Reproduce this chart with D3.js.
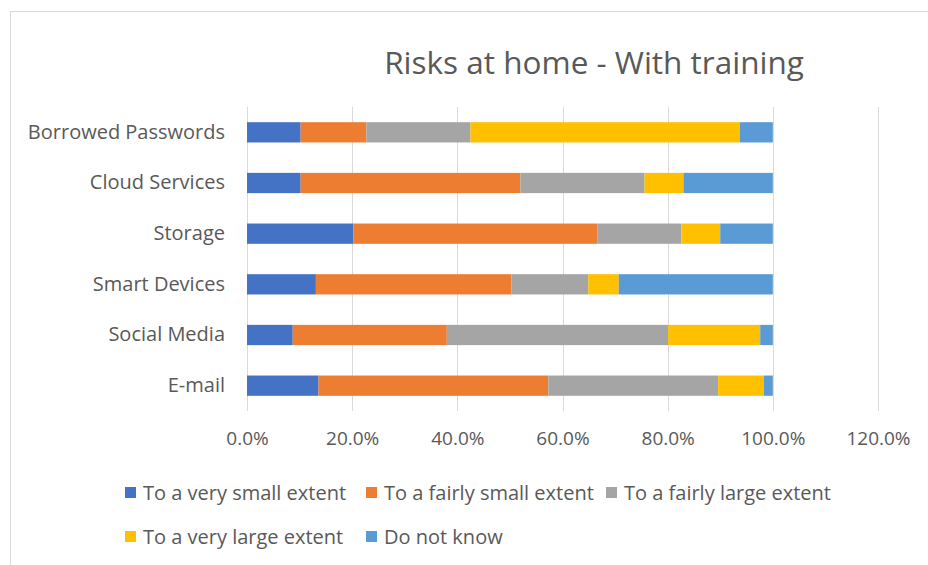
<!DOCTYPE html>
<html>
<head>
<meta charset="utf-8">
<script src="https://cdn.jsdelivr.net/npm/d3@7"></script>
<style>
  html, body { margin: 0; padding: 0; background: #fff; }
  svg { display: block; }
  text { font-family: "Open Sans", "Noto Sans", sans-serif; fill: #595959; }
</style>
</head>
<body>
<svg id="chart" width="928" height="565"></svg>
<script>
// Categories (top to bottom)
const categories = ["Borrowed Passwords", "Cloud Services", "Storage", "Smart Devices", "Social Media", "E-mail"];
// Series (shares, %)
const seriesNames = ["To a very small extent", "To a fairly small extent", "To a fairly large extent", "To a very large extent", "Do not know"];
const verySmall   = [10.2, 10.2, 20.2, 13.1,  8.7, 13.6];
const fairlySmall = [12.5, 41.8, 46.4, 37.2, 29.3, 43.7];
const fairlyLarge = [19.8, 23.6, 16.0, 14.6, 42.1, 32.3];
const veryLarge   = [51.2,  7.4,  7.4,  5.8, 17.5,  8.7];
const doNotKnow   = [ 6.3, 17.0, 10.0, 29.3,  2.4,  1.7];
const tickValues  = [0, 20, 40, 60, 80, 100, 120];
const colors = ["#4472C4", "#ED7D31", "#A5A5A5", "#FFC000", "#5B9BD5"];

const seriesValues = [verySmall, fairlySmall, fairlyLarge, veryLarge, doNotKnow];
const rows = categories.map((c, i) => {
  const r = { category: c };
  seriesNames.forEach((s, j) => r[s] = seriesValues[j][i]);
  return r;
});

const svg = d3.select("#chart");

// Chart border
svg.append("rect")
  .attr("x", 10.5).attr("y", 11.5)
  .attr("width", 940).attr("height", 600)
  .attr("fill", "none").attr("stroke", "#D9D9D9").attr("stroke-width", 1);

const plot = { left: 247, right: 878, top: 107, bottom: 411 };

const x = d3.scaleLinear().domain([0, 120]).range([plot.left, plot.right]);
const y = d3.scaleBand().domain(categories).range([plot.top, plot.bottom]).paddingInner(0.6).paddingOuter(0.3);

// Title
svg.append("text")
  .attr("x", 594).attr("y", 74)
  .attr("text-anchor", "middle")
  .style("font-size", "31.5px")
  .text("Risks at home - With training");

// Gridlines
svg.append("g")
  .selectAll("line")
  .data(tickValues)
  .join("line")
  .attr("x1", d => Math.round(x(d)) + 0.5).attr("x2", d => Math.round(x(d)) + 0.5)
  .attr("y1", plot.top).attr("y2", plot.bottom)
  .attr("stroke", "#D9D9D9").attr("stroke-width", 1);

// Bars
const stack = d3.stack().keys(seriesNames);
const stacked = stack(rows);

svg.append("g")
  .selectAll("g")
  .data(stacked)
  .join("g")
  .attr("fill", (d, i) => colors[i])
  .selectAll("rect")
  .data(d => d)
  .join("rect")
  .attr("x", d => x(d[0]))
  .attr("y", d => y(d.data.category))
  .attr("width", d => x(d[1]) - x(d[0]))
  .attr("height", y.bandwidth());

// X axis labels
const xAxis = d3.axisBottom(x)
  .tickValues(tickValues)
  .tickFormat(d => d3.format(".1f")(d) + "%")
  .tickSize(0)
  .tickPadding(0);
const gx = svg.append("g")
  .attr("transform", `translate(0, ${plot.bottom + 20})`)
  .call(xAxis);
gx.select(".domain").remove();
gx.attr("font-family", null);
gx.selectAll("text")
  .style("font-size", "19px")
  .attr("fill", "#595959");

// Y axis labels
const yAxis = d3.axisLeft(y).tickSize(0).tickPadding(0);
const gy = svg.append("g")
  .attr("transform", `translate(225, 0)`)
  .call(yAxis);
gy.select(".domain").remove();
gy.attr("font-family", null);
gy.selectAll("text")
  .style("font-size", "20px")
  .attr("fill", "#595959");

// Legend
const legendPos = [
  { x: 125, y: 493 }, { x: 366, y: 493 }, { x: 606, y: 493 },
  { x: 125, y: 537 }, { x: 366, y: 537 }
];
const lg = svg.append("g")
  .selectAll("g")
  .data(seriesNames)
  .join("g")
  .attr("transform", (d, i) => `translate(${legendPos[i].x}, ${legendPos[i].y})`);
lg.append("rect")
  .attr("x", 0).attr("y", -6)
  .attr("width", 11).attr("height", 11)
  .attr("fill", (d, i) => colors[i]);
lg.append("text")
  .attr("x", 18).attr("y", 0)
  .attr("dy", "0.35em")
  .style("font-size", "20px")
  .text(d => d);
</script>
</body>
</html>
